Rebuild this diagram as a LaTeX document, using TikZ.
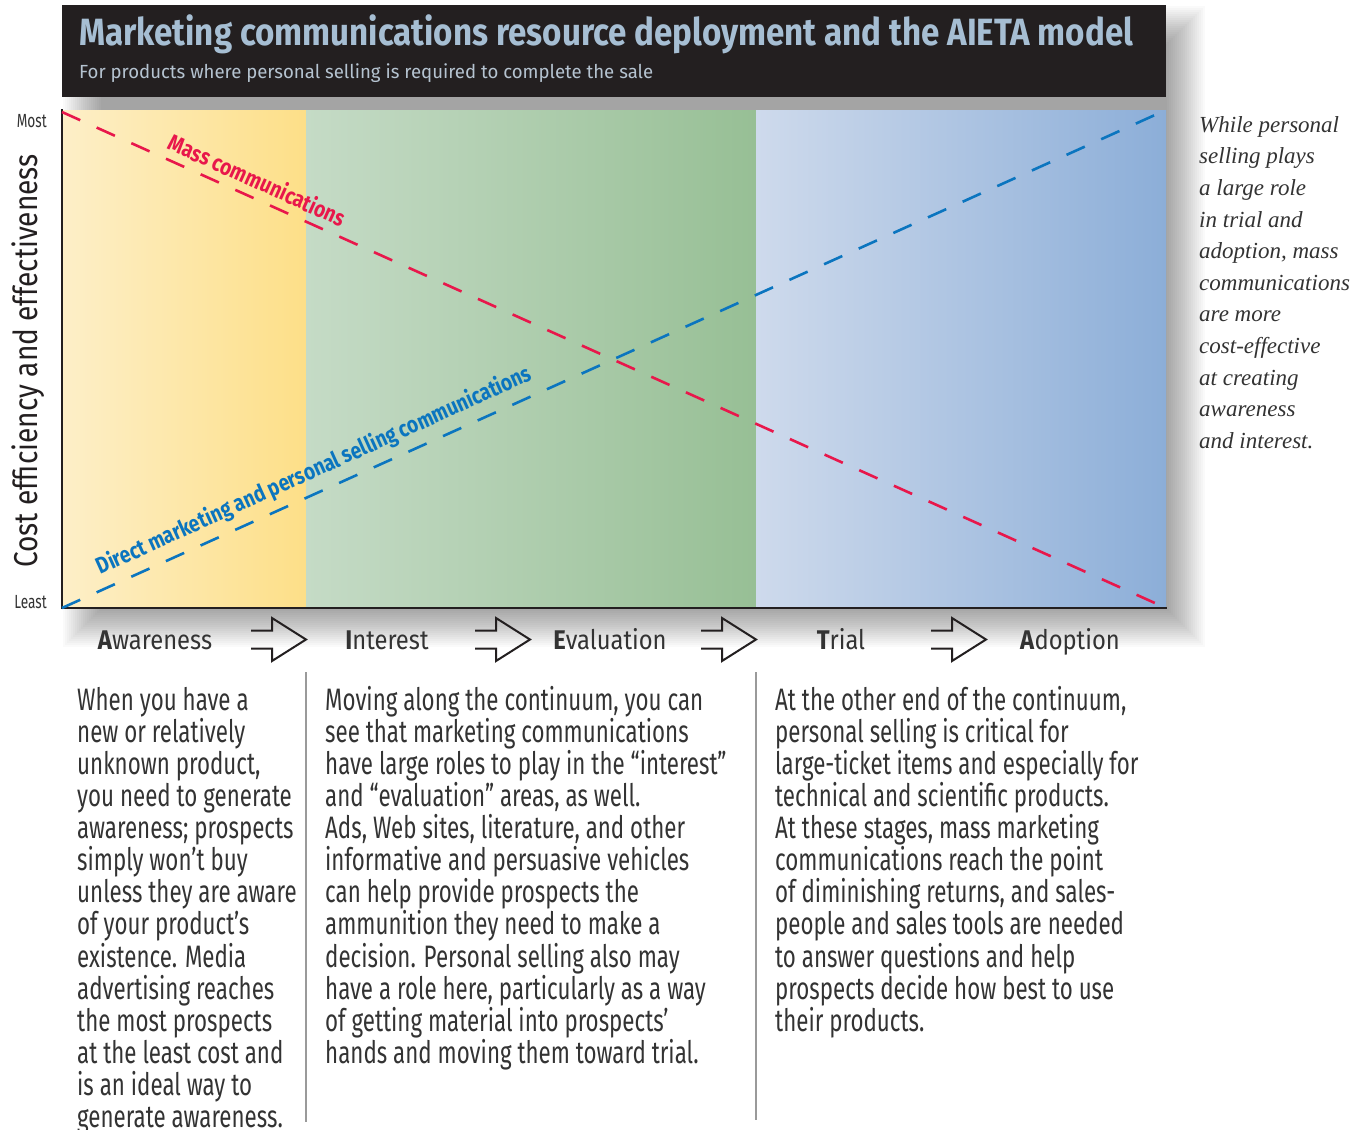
\documentclass[tikz,border=0pt]{standalone}
\usepackage{fontspec}
\usepackage{graphicx}
\setmainfont{Fira Sans}
\newfontfamily\bodyface{Fira Sans}[FakeStretch=0.72]
\newfontfamily\stageface{Fira Sans}[FakeStretch=0.88]
\newfontfamily\axisface{Fira Sans}[FakeStretch=0.85]
\newfontfamily\labelface{Fira Sans}[FakeStretch=0.83]
\newfontfamily\noteface{Liberation Serif}

\definecolor{headbg}{HTML}{231F20}
\definecolor{titleblue}{HTML}{A6BED3}
\definecolor{subgray}{HTML}{B5C3D0}
\definecolor{yelA}{HTML}{FDEFC8}
\definecolor{yelB}{HTML}{FDDF88}
\definecolor{grnA}{HTML}{C5DBC6}
\definecolor{grnB}{HTML}{97BF95}
\definecolor{bluA}{HTML}{CEDAEC}
\definecolor{bluB}{HTML}{8CAED8}
\definecolor{massred}{HTML}{E8174B}
\definecolor{directblue}{HTML}{0B75BF}
\definecolor{inkgray}{HTML}{333333}
\definecolor{rulegray}{HTML}{9A9A9A}

\newcommand\firstline{\rule{0pt}{26pt}}

\tikzset{
  axisline/.style={draw=headbg, line width=2.5pt, line cap=rect},
  massline/.style={draw=massred, line width=2.6pt, dash pattern=on 20pt off 18pt},
  directline/.style={draw=directblue, line width=2.6pt, dash pattern=on 20pt off 18pt},
  masslabel/.style={inner sep=0, text=massred, font=\labelface\bfseries\fontsize{23}{23}\selectfont},
  directlabel/.style={inner sep=0, text=directblue, font=\labelface\bfseries\fontsize{23}{23}\selectfont},
  axislabel/.style={inner sep=0, text=headbg, font=\axisface\fontsize{33}{33}\selectfont},
  endlabel/.style={inner sep=0, text=inkgray, font=\bodyface\fontsize{19}{19}\selectfont},
  stagelabel/.style={inner sep=0, text=inkgray, font=\stageface\fontsize{27}{27}\selectfont},
  arrowline/.style={draw=headbg, line width=2pt, line join=miter},
  divider/.style={draw=rulegray, line width=1.5pt},
  bodytext/.style={inner sep=0, align=left, text=inkgray, font=\bodyface\fontsize{31}{32.1}\selectfont},
  notetext/.style={inner sep=0, align=left, text=inkgray, font=\noteface\itshape\fontsize{23}{31.6}\selectfont},
  flowarrow/.pic={\draw[arrowline] (-55,-9) -- (-34,-9) -- (-34,-21.5) -- (0,0) -- (-34,21.5) -- (-34,9) -- (-55,9);}
}

\begin{document}
\begin{tikzpicture}[x=1pt,y=-1pt]
\useasboundingbox (0,0) rectangle (1366,1130);
\fill[white] (0,0) rectangle (1366,1130);

% soft drop shadow behind header and chart panel
\foreach \k in {0,...,19}{
  \pgfmathsetmacro\d{-19+2*\k}
  \fill[black,opacity=0.018] ({82+\d},{25+\d}) rectangle ({1186-\d},{628-\d});
}

% header bar
\fill[headbg] (62,5) rectangle (1166,97);
\node[anchor=base west, inner sep=0, text=titleblue] (title) at (79,45)
  {\resizebox{1054pt}{\height}{\fontsize{38}{38}\selectfont\bfseries Marketing communications resource deployment and the AIETA model}};
\node[anchor=base west, inner sep=0, text=subgray] (subtitle) at (79,78)
  {\resizebox{574pt}{\height}{\fontsize{19}{19}\selectfont For products where personal selling is required to complete the sale}};

% stage bands
\shade[left color=yelA, right color=yelB] (62,110) rectangle (306,608);
\shade[left color=grnA, right color=grnB] (306,110) rectangle (756,608);
\shade[left color=bluA, right color=bluB] (756,110) rectangle (1166,608);

% axes
\coordinate (ytop) at (62,110);
\coordinate (origin) at (62,608);
\coordinate (xend) at (1166,608);
\draw[axisline] (ytop) -- (origin) -- (xend);

% the two crossing curves
\coordinate (massA) at (62,112);
\coordinate (massB) at (1166,608);
\coordinate (directA) at (62,608);
\coordinate (directB) at (1166,110);
\draw[massline] (massA) -- (massB);
\draw[directline] (directA) -- (directB);
\node[masslabel, rotate=-24.2, anchor=base] (masstext) at (254,188) {Mass communications};
\node[directlabel, rotate=24.3, anchor=base] (directtext) at (317,477) {Direct marketing and personal selling communications};

% axis labels
\node[axislabel, rotate=90, anchor=base] (ylabel) at (37,361) {Cost efficiency and effectiveness};
\node[endlabel, anchor=base east] (most) at (47,127) {Most};
\node[endlabel, anchor=base east] (least) at (47,608) {Least};

% AIETA stages
\node[stagelabel, anchor=base] (awareness) at (155,649) {\textbf{A}wareness};
\node[stagelabel, anchor=base] (interest) at (387,649) {\textbf{I}nterest};
\node[stagelabel, anchor=base] (evaluation) at (610,649) {\textbf{E}valuation};
\node[stagelabel, anchor=base] (trial) at (841,649) {\textbf{T}rial};
\node[stagelabel, anchor=base] (adoption) at (1070,649) {\textbf{A}doption};
\pic at (306,639.5) {flowarrow};
\pic at (530,639.5) {flowarrow};
\pic at (756,639.5) {flowarrow};
\pic at (986,639.5) {flowarrow};

% column rules
\coordinate (ruleAtop) at (306,672);
\coordinate (ruleAbot) at (306,1122);
\coordinate (ruleBtop) at (756,672);
\coordinate (ruleBbot) at (756,1120);
\draw[divider] (ruleAtop) -- (ruleAbot);
\draw[divider] (ruleBtop) -- (ruleBbot);

% explanatory columns
\node[bodytext, anchor=north west] (colA) at (77,684) {\firstline When you have a\\
new or relatively\\
unknown product,\\
you need to generate\\
awareness; prospects\\
simply won’t buy\\
unless they are aware\\
of your product’s\\
existence. Media\\
advertising reaches\\
the most prospects\\
at the least cost and\\
is an ideal way to\\
generate awareness.};

\node[bodytext, anchor=north west] (colB) at (325,684) {\firstline Moving along the continuum, you can\\
see that marketing communications\\
have large roles to play in the “interest”\\
and “evaluation” areas, as well.\\
Ads, Web sites, literature, and other\\
informative and persuasive vehicles\\
can help provide prospects the\\
ammunition they need to make a\\
decision. Personal selling also may\\
have a role here, particularly as a way\\
of getting material into prospects’\\
hands and moving them toward trial.};

\node[bodytext, anchor=north west] (colC) at (775,684) {\firstline At the other end of the continuum,\\
personal selling is critical for\\
large-ticket items and especially for\\
technical and scientific products.\\
At these stages, mass marketing\\
communications reach the point\\
of diminishing returns, and sales-\\
people and sales tools are needed\\
to answer questions and help\\
prospects decide how best to use\\
their products.};

% side note
\node[notetext, anchor=north west] (sidenote) at (1199,106) {\firstline While personal\\
selling plays\\
a large role\\
in trial and\\
adoption, mass\\
communications\\
are more\\
cost-effective\\
at creating\\
awareness\\
and interest.};
\end{tikzpicture}
\end{document}
